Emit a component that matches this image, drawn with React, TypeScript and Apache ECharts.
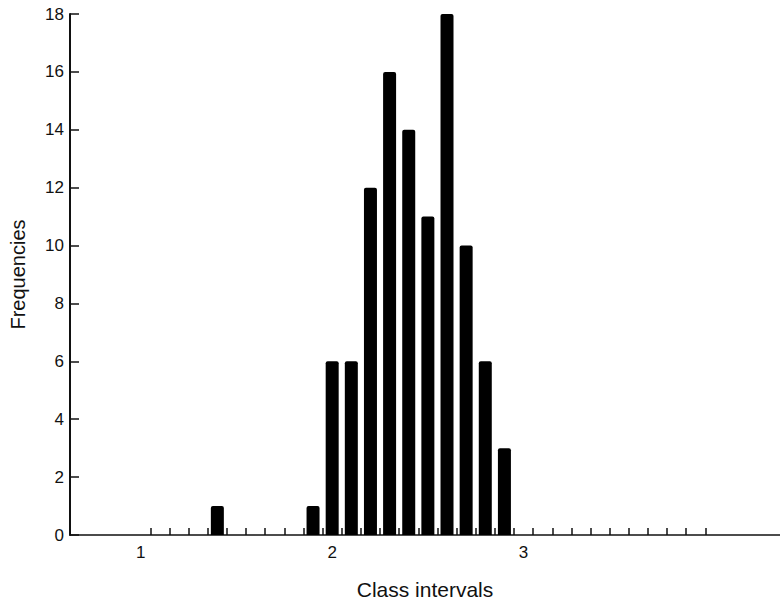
import React, { useEffect, useRef } from "react";
import * as echarts from "echarts";

const classCentres = [1.4, 1.9, 2.0, 2.1, 2.2, 2.3, 2.4, 2.5, 2.6, 2.7, 2.8, 2.9];
const frequencies = [1, 1, 6, 6, 12, 16, 14, 11, 18, 10, 6, 3];
const xLabelValues = [1, 2, 3];
const classBoundaries = [
  1.05, 1.15, 1.25, 1.35, 1.45, 1.55, 1.65, 1.75, 1.85, 1.95,
  2.05, 2.15, 2.25, 2.35, 2.45, 2.55, 2.65, 2.75, 2.85, 2.95,
  3.05, 3.15, 3.25, 3.35, 3.45, 3.55, 3.65, 3.75, 3.85, 3.95,
];

export default function App() {
  const ref = useRef<HTMLDivElement>(null);
  useEffect(() => {
    document.body.style.margin = "0";
    if (!ref.current) return;
    const chart = echarts.init(ref.current, null, { renderer: "svg" });
    const font = "Liberation Sans";
    chart.setOption({
      animation: false,
      backgroundColor: "#ffffff",
      grid: { left: 69, right: 0, top: 14, bottom: 66, containLabel: false },
      xAxis: {
        type: "value",
        min: 0.63,
        max: 4.34,
        name: "Class intervals",
        nameLocation: "middle",
        nameGap: 44,
        nameTextStyle: { fontSize: 21, color: "#111", fontFamily: font },
        splitLine: { show: false },
        axisLine: { show: true, lineStyle: { color: "#111", width: 1.5 } },
        axisTick: {
          show: true,
          inside: true,
          length: 7,
          customValues: classBoundaries,
          lineStyle: { color: "#111", width: 1.5 },
        },
        axisLabel: {
          customValues: xLabelValues,
          fontSize: 17,
          color: "#111",
          fontFamily: font,
          margin: 9,
        },
      },
      yAxis: {
        type: "value",
        min: 0,
        max: 18,
        interval: 2,
        name: "Frequencies",
        nameLocation: "middle",
        nameGap: 42,
        nameTextStyle: { fontSize: 20, color: "#111", fontFamily: font },
        splitLine: { show: false },
        axisLine: { show: true, lineStyle: { color: "#111", width: 2 } },
        axisTick: { show: true, inside: true, length: 9, lineStyle: { color: "#111", width: 1.5 } },
        axisLabel: { fontSize: 17, color: "#111", fontFamily: font, margin: 6 },
      },
      series: [
        {
          type: "bar",
          barWidth: 13,
          data: classCentres.map((c, i) => [c, frequencies[i]]),
          itemStyle: { color: "#000", borderRadius: [2, 2, 0, 0] },
        },
      ],
    });
    return () => chart.dispose();
  }, []);
  return <div ref={ref} style={{ width: 780, height: 605, background: "#fff" }} />;
}
